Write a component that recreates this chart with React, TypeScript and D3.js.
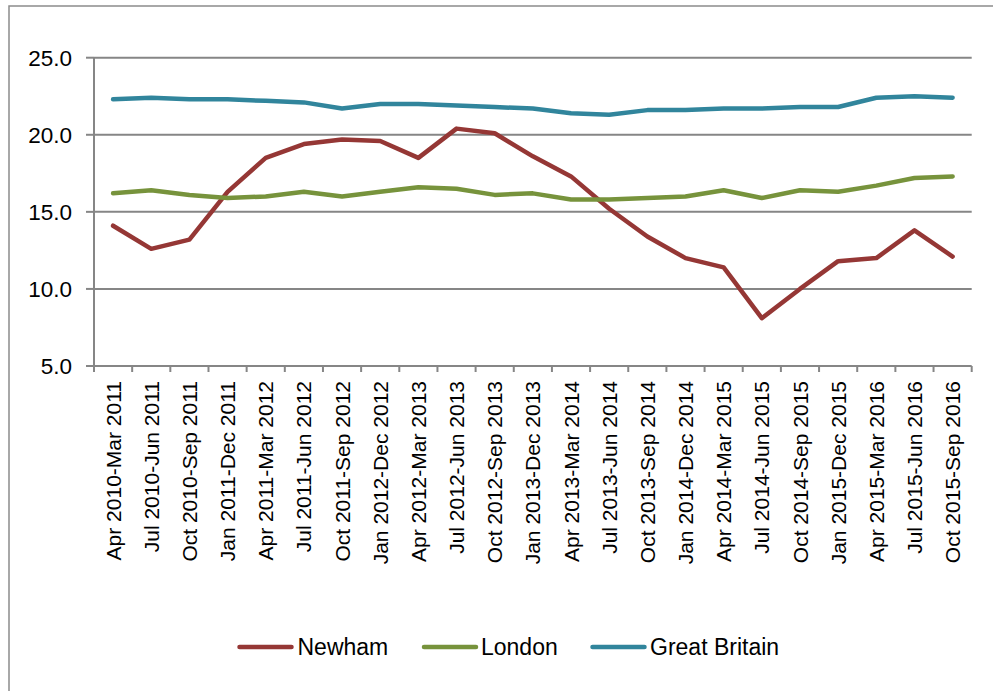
import React from "react";
import * as d3 from "d3";

const categories: string[] = [
  "Apr 2010-Mar 2011", "Jul 2010-Jun 2011", "Oct 2010-Sep 2011", "Jan 2011-Dec 2011",
  "Apr 2011-Mar 2012", "Jul 2011-Jun 2012", "Oct 2011-Sep 2012", "Jan 2012-Dec 2012",
  "Apr 2012-Mar 2013", "Jul 2012-Jun 2013", "Oct 2012-Sep 2013", "Jan 2013-Dec 2013",
  "Apr 2013-Mar 2014", "Jul 2013-Jun 2014", "Oct 2013-Sep 2014", "Jan 2014-Dec 2014",
  "Apr 2014-Mar 2015", "Jul 2014-Jun 2015", "Oct 2014-Sep 2015", "Jan 2015-Dec 2015",
  "Apr 2015-Mar 2016", "Jul 2015-Jun 2016", "Oct 2015-Sep 2016",
];

const newham: number[] = [
  14.1, 12.6, 13.2, 16.3, 18.5, 19.4, 19.7, 19.6, 18.5, 20.4, 20.1, 18.6,
  17.3, 15.2, 13.4, 12.0, 11.4, 8.1, 10.0, 11.8, 12.0, 13.8, 12.1,
];
const london: number[] = [
  16.2, 16.4, 16.1, 15.9, 16.0, 16.3, 16.0, 16.3, 16.6, 16.5, 16.1, 16.2,
  15.8, 15.8, 15.9, 16.0, 16.4, 15.9, 16.4, 16.3, 16.7, 17.2, 17.3,
];
const greatBritain: number[] = [
  22.3, 22.4, 22.3, 22.3, 22.2, 22.1, 21.7, 22.0, 22.0, 21.9, 21.8, 21.7,
  21.4, 21.3, 21.6, 21.6, 21.7, 21.7, 21.8, 21.8, 22.4, 22.5, 22.4,
];

const yTicks: number[] = [5, 10, 15, 20, 25];

const seriesNames: string[] = ["Newham", "London", "Great Britain"];
const seriesColors: string[] = ["#953735", "#77933c", "#31859c"];

const W = 993;
const H = 691;
const plotLeft = 94;
const plotRight = 971.7;
const plotTop = 57.7;
const plotBottom = 366;
const FONT = "Arial, 'Liberation Sans', sans-serif";
const GRID = "#868686";

export default function App() {
  const x = d3.scaleBand<string>().domain(categories).range([plotLeft, plotRight]).padding(0);
  const y = d3.scaleLinear().domain([5, 25]).range([plotBottom, plotTop]);
  const cx = (c: string) => (x(c) as number) + x.bandwidth() / 2;

  const allSeries = [newham, london, greatBritain];
  const line = d3
    .line<number>()
    .x((_, i) => cx(categories[i]))
    .y((d) => y(d));

  const boundaries = categories.map((c) => x(c) as number).concat([plotRight]);

  const legendItems = [
    { lineX: 237.5, textX: 297.5 },
    { lineX: 422, textX: 481 },
    { lineX: 590.5, textX: 650 },
  ];

  return (
    <div style={{ position: "fixed", left: 0, top: 0, width: W, height: H, background: "#fff" }}>
      <svg width={W} height={H} viewBox={`0 0 ${W} ${H}`} style={{ display: "block" }}>
        <rect x={0} y={0} width={W} height={H} fill="#fff" />
        <rect x={9} y={6} width={W + 20} height={H + 20} fill="none" stroke="#8c8c8c" strokeWidth={1.5} />

        {/* gridlines */}
        {yTicks.filter((t) => t !== 5).map((t) => (
          <line key={"g" + t} x1={plotLeft} x2={plotRight} y1={y(t)} y2={y(t)} stroke={GRID} strokeWidth={2} />
        ))}
        {/* x axis */}
        <line x1={plotLeft} x2={plotRight} y1={plotBottom} y2={plotBottom} stroke={GRID} strokeWidth={2} />
        {/* y axis */}
        <line x1={plotLeft} x2={plotLeft} y1={plotTop} y2={plotBottom} stroke={GRID} strokeWidth={2} />
        {/* y ticks */}
        {yTicks.map((t) => (
          <g key={"yt" + t}>
            <line x1={plotLeft - 8} x2={plotLeft} y1={y(t)} y2={y(t)} stroke={GRID} strokeWidth={2} />
            <text
              x={72}
              y={y(t)}
              dy="0.36em"
              textAnchor="end"
              fontFamily={FONT}
              fontSize={22.5}
              fill="#000"
            >
              {d3.format(".1f")(t)}
            </text>
          </g>
        ))}
        {/* x ticks */}
        {boundaries.map((b, i) => (
          <line key={"xt" + i} x1={b} x2={b} y1={plotBottom} y2={plotBottom + 6} stroke={GRID} strokeWidth={2} />
        ))}
        {/* x labels */}
        {categories.map((c) => (
          <text
            key={"xl" + c}
            transform={`translate(${cx(c)},${plotBottom + 15}) rotate(-90)`}
            textAnchor="end"
            dy="0.36em"
            fontFamily={FONT}
            fontSize={21}
            fill="#000"
          >
            {c}
          </text>
        ))}

        {/* series */}
        {allSeries.map((s, i) => (
          <path
            key={"s" + i}
            d={line(s) as string}
            fill="none"
            stroke={seriesColors[i]}
            strokeWidth={4.5}
            strokeLinejoin="round"
            strokeLinecap="round"
          />
        ))}

        {/* legend */}
        {seriesNames.map((n, i) => (
          <g key={"lg" + n}>
            <line
              x1={legendItems[i].lineX + 2}
              x2={legendItems[i].lineX + 54}
              y1={647}
              y2={647}
              stroke={seriesColors[i]}
              strokeWidth={4.5}
              strokeLinecap="round"
            />
            <text x={legendItems[i].textX} y={655} fontFamily={FONT} fontSize={23} fill="#000">
              {n}
            </text>
          </g>
        ))}
      </svg>
    </div>
  );
}
